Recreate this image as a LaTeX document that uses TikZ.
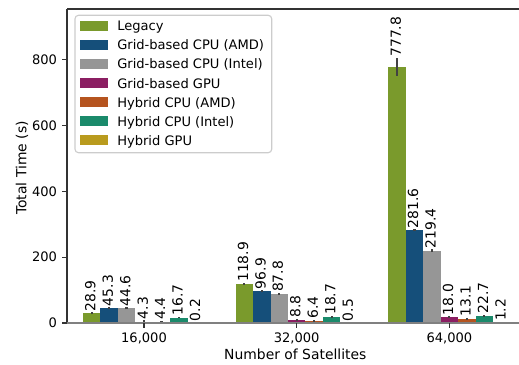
\documentclass[tikz,border=0pt]{standalone}
\usepackage{fontspec}
\setmainfont{DejaVu Sans}
% series colours
\definecolor{bar0}{HTML}{7A9A2C}
\definecolor{bar1}{HTML}{154F7A}
\definecolor{bar2}{HTML}{969696}
\definecolor{bar3}{HTML}{8B1E62}
\definecolor{bar4}{HTML}{B5541F}
\definecolor{bar5}{HTML}{1A8A6B}
\definecolor{bar6}{HTML}{B99B1E}
\definecolor{spinecol}{HTML}{333333}
\definecolor{errcol}{HTML}{424242}
\definecolor{legedge}{HTML}{CCCCCC}
\begin{document}
\begin{tikzpicture}[x=0.72pt,y=-0.72pt,
  font=\fontsize{10}{12}\selectfont,
  smallfont/.style={font=\fontsize{9.4}{11}\selectfont},
  spine/.style={draw=spinecol,line width=0.8pt},
  errbar/.style={draw=errcol,line width=1.5pt},
  barlabel/.style={rotate=90,anchor=west,inner sep=0pt,text height=0.76em,text depth=0.22em},
  ticklab/.style={smallfont,inner sep=0pt,text depth=0pt},
  legtext/.style={smallfont,anchor=base west,inner sep=0pt},
]
\useasboundingbox (0,0) rectangle (519,364);

% bars: group / series / value / error
\foreach \g/\i/\v/\e in {
  0/0/28.9/3, 0/1/45.3/3, 0/2/44.6/3, 0/3/4.3/4, 0/4/4.4/3, 0/5/16.7/3, 0/6/0.2/2,
  1/0/118.9/3, 1/1/96.9/3, 1/2/87.8/3, 1/3/8.8/4, 1/4/6.4/3, 1/5/18.7/3, 1/6/0.5/2,
  2/0/777.8/27, 2/1/281.6/3, 2/2/219.4/4, 2/3/18.0/3, 2/4/13.1/3, 2/5/22.7/3, 2/6/1.2/2}{
  \pgfmathsetmacro{\cx}{144+152.7*\g+17.47*(\i-3)}
  \fill[bar\i] ({\cx-8.735},323) rectangle ({\cx+8.735},{323-0.3296*\v});
  \draw[errbar] (\cx,{323-0.3296*(\v-\e)}) -- (\cx,{323-0.3296*(\v+\e)});
  \node[barlabel] (lbl\g\i) at (\cx,{323-0.3296*(\v+\e)-0.8}) {\v};
}

% axes frame
\draw[spine] (67,9) -- (67,323);
\draw[spine] (67,9) -- (519,9);
\draw[draw=gray,line width=1pt] (67,323) -- (519,323);

% y ticks
\foreach \t in {0,200,400,600,800}{
  \draw[spine] (62.1,{323-0.3296*\t}) -- (67,{323-0.3296*\t});
  \node[ticklab,anchor=east] (ytick\t) at (57.3,{323-0.3296*\t}) {\t};
}
% x ticks
\foreach \g/\lab in {0/{16,000},1/{32,000},2/{64,000}}{
  \draw[spine] ({144+152.7*\g},323) -- ({144+152.7*\g},327.9);
  \node[ticklab,anchor=north] (xtick\g) at ({144+152.7*\g},332.4) {\lab};
}

% axis titles
\node[anchor=base,inner sep=0pt] (xtitle) at (295.3,359.6) {Number of Satellites};
\node[anchor=base,inner sep=0pt,rotate=90] (ytitle) at (26.3,168) {Total Time (s)};

% legend
\draw[draw=legedge,fill=white,fill opacity=0.8,rounded corners=2.5pt,line width=0.8pt]
  (75,15.3) rectangle (271.7,152.7);
\foreach \k/\name in {0/Legacy,1/Grid-based CPU (AMD),2/Grid-based CPU (Intel),
  3/Grid-based GPU,4/Hybrid CPU (AMD),5/Hybrid CPU (Intel),6/Hybrid GPU}{
  \pgfmathsetmacro{\ry}{25.9+19.07*\k}
  \fill[bar\k] (80,{\ry-4.85}) rectangle (107.8,{\ry+4.85});
  \node[legtext] (leg\k) at (117,{\ry+4.9}) {\name};
}
\end{tikzpicture}
\end{document}
